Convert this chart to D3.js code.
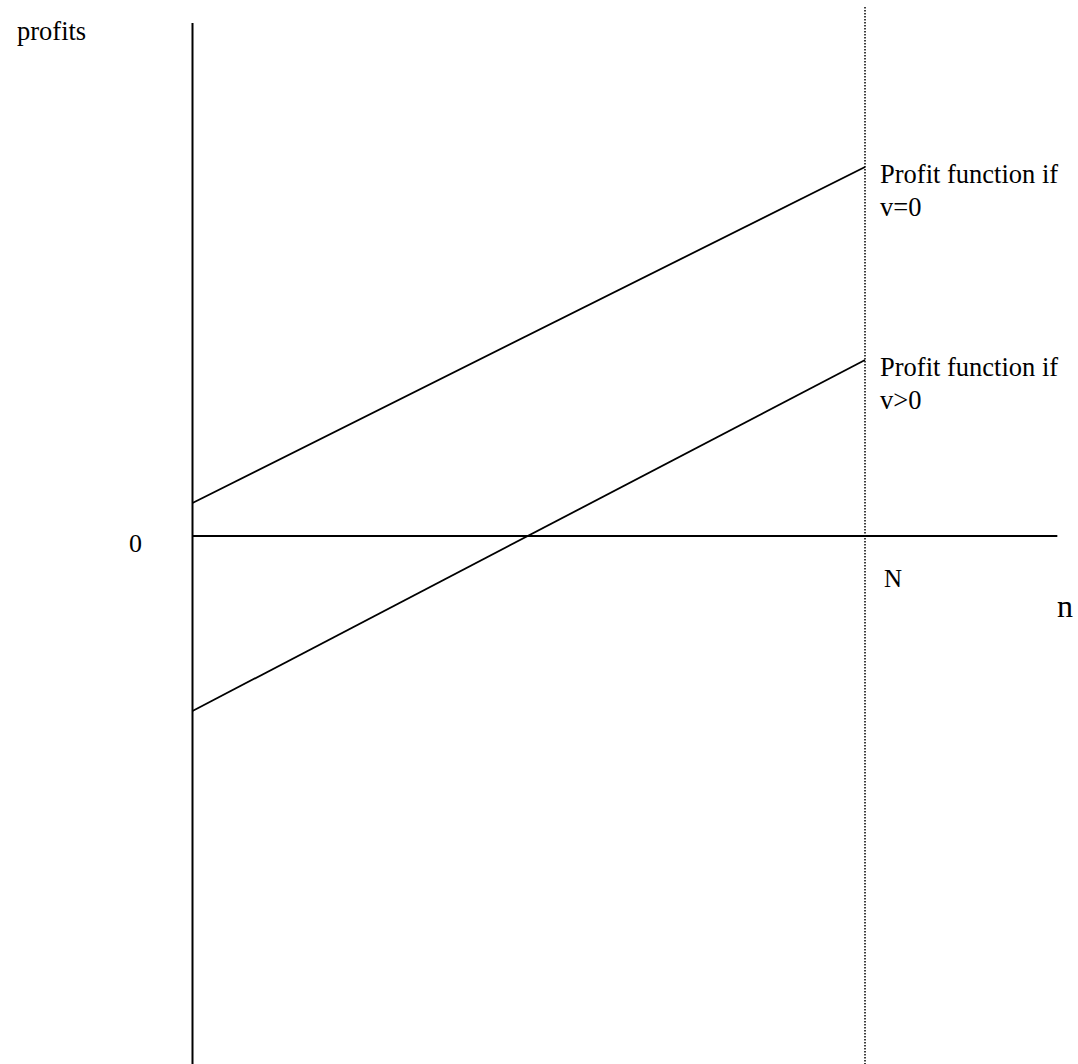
<!DOCTYPE html>
<html>
<head>
<meta charset="utf-8">
<script src="https://cdn.jsdelivr.net/npm/d3@7"></script>
<style>
  body { margin: 0; background: #fff; }
  text { font-family: "Liberation Serif", "Times New Roman", serif; fill: #000; }
</style>
</head>
<body>
<div id="chart"></div>
<script>
// n values: 0 and N (the capacity), plus where the n axis stops
var nPoints = [0, 100];
var nAxisEnd = 128.6;
var N = 100;

// profit at n = 0 and n = N for each case
var profitV0 = [0.33, 3.69];
var profitVpos = [-1.75, 1.76];
var seriesLabels = [["Profit function if", "v=0"], ["Profit function if", "v>0"]];

var width = 1078, height = 1064;

var svg = d3.select("#chart").append("svg")
    .attr("width", width)
    .attr("height", height);

var x = d3.scaleLinear().domain([0, N]).range([192.5, 865]);
var y = d3.scaleLinear().domain([-5.28, 5.13]).range([1064, 23]);

/* axes */
svg.append("line")
    .attr("x1", x(0)).attr("x2", x(0))
    .attr("y1", y(5.13)).attr("y2", y(-5.28))
    .attr("stroke", "#000").attr("stroke-width", 2);

svg.append("line")
    .attr("x1", x(0)).attr("x2", x(nAxisEnd))
    .attr("y1", y(0)).attr("y2", y(0))
    .attr("stroke", "#000").attr("stroke-width", 2);

/* dotted line at N */
svg.append("line")
    .attr("x1", x(N)).attr("x2", x(N))
    .attr("y1", 7).attr("y2", height)
    .attr("stroke", "#000").attr("stroke-width", 1.5)
    .attr("stroke-dasharray", "1.5,1.5");

/* profit lines */
var line = d3.line()
    .x(function(d, i) { return x(nPoints[i]); })
    .y(function(d) { return y(d); });

[profitV0, profitVpos].forEach(function(s, k) {
    svg.append("path")
        .attr("d", line(s))
        .attr("fill", "none")
        .attr("stroke", "#000")
        .attr("stroke-width", 1.8);

    var t = svg.append("text")
        .attr("x", x(N) + 15)
        .attr("y", y(s[1]) + 16)
        .style("font-size", "26.5px");
    seriesLabels[k].forEach(function(str, j) {
        t.append("tspan")
            .attr("x", x(N) + 15)
            .attr("dy", j == 0 ? 0 : 33)
            .text(str);
    });
});

/* labels */
svg.append("text").attr("x", 17).attr("y", 40)
    .style("font-size", "26.5px").text("profits");
svg.append("text").attr("x", 129).attr("y", y(0) + 16)
    .style("font-size", "26px").text("0");
svg.append("text").attr("x", x(N) + 19).attr("y", y(0) + 51)
    .style("font-size", "25px").text("N");
svg.append("text").attr("x", 1057).attr("y", y(0) + 81)
    .style("font-size", "32px").text("n");
</script>
</body>
</html>
